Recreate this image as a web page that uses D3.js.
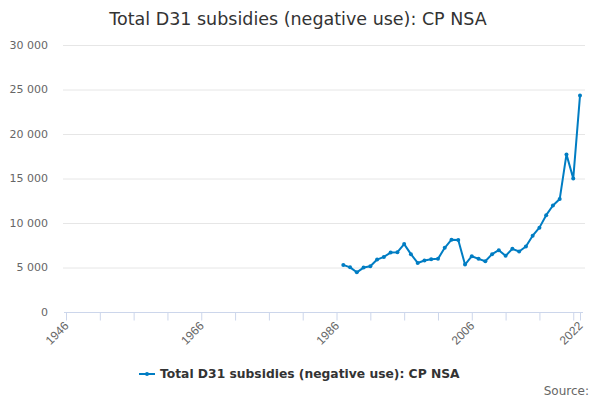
<!DOCTYPE html>
<html>
<head>
<meta charset="utf-8">
<script src="https://cdn.jsdelivr.net/npm/d3@7"></script>
<style>
  body { margin: 0; background: #fff; }
  svg { font-family: "DejaVu Sans", Verdana, sans-serif; }
  .axis text { fill: #666; font-size: 11px; }
  .x-axis text { font-size: 12px; }
  .axis path, .axis line { stroke: #ccd6eb; }
</style>
</head>
<body>
<div id="chart"></div>
<script>
// Yearly values 1987-2022
const years = d3.range(1987, 2023);
const values = [
  5290, 5020, 4460, 4990, 5140, 5890, 6190, 6680, 6720, 7630,
  6500, 5510, 5780, 5930, 5970, 7210, 8120, 8080, 5330, 6270,
  5970, 5700, 6500, 6950, 6310, 7100, 6800, 7360, 8570, 9480,
  10880, 11970, 12690, 17710, 14990, 24320
];
const yTicks = [0, 5000, 10000, 15000, 20000, 25000, 30000];
const xLabelYears = [1946, 1966, 1986, 2006, 2022];
const xTickYears = d3.range(1946, 2022, 5).concat([2022]);

const title = 'Total D31 subsidies (negative use): CP NSA';
const seriesName = 'Total D31 subsidies (negative use): CP NSA';

const data = years.map((y, i) => ({ year: y, value: values[i] }));

const width = 600;
const height = 400;

const svg = d3.select('#chart').append('svg')
  .attr('width', width)
  .attr('height', height);

const x = d3.scaleLinear()
  .domain([1946, 2022])
  .range([66, 580]);
const y = d3.scaleLinear()
  .domain([0, 30000])
  .range([312, 45]);

const fmt = (d) => d3.format(',')(d).replace(/,/g, ' ');

// gridlines
svg.append('g')
  .selectAll('line')
  .data(yTicks.filter(d => d > 0))
  .join('line')
  .attr('x1', 63)
  .attr('x2', 585)
  .attr('y1', d => y(d) + 0.5)
  .attr('y2', d => y(d) + 0.5)
  .attr('stroke', '#e6e6e6');

// y axis labels
svg.append('g')
  .attr('class', 'axis y-axis')
  .selectAll('text')
  .data(yTicks)
  .join('text')
  .attr('x', 48)
  .attr('y', d => y(d))
  .attr('dy', '0.35em')
  .attr('text-anchor', 'end')
  .text(fmt);

// x axis
const xAxis = d3.axisBottom(x)
  .tickValues(xTickYears)
  .tickSize(8)
  .tickSizeOuter(0)
  .tickFormat(d => xLabelYears.includes(d) ? d : '');

const xAxisG = svg.append('g')
  .attr('class', 'axis x-axis')
  .attr('transform', `translate(0,${y(0) + 0.5})`)
  .call(xAxis);

xAxisG.select('.domain')
  .attr('d', 'M64,0H583');

xAxisG.selectAll('.tick text')
  .attr('transform', 'translate(3,14) rotate(-45)')
  .attr('x', 0)
  .attr('y', 0)
  .attr('dy', 0)
  .style('text-anchor', 'end');

// line
const line = d3.line()
  .x(d => x(d.year))
  .y(d => y(d.value));

svg.append('path')
  .datum(data)
  .attr('fill', 'none')
  .attr('stroke', '#007dc3')
  .attr('stroke-width', 2)
  .attr('stroke-linejoin', 'round')
  .attr('d', line);

svg.append('g')
  .selectAll('circle')
  .data(data)
  .join('circle')
  .attr('cx', d => x(d.year))
  .attr('cy', d => y(d.value))
  .attr('r', 2)
  .attr('fill', '#007dc3');

// title
svg.append('text')
  .attr('x', 298)
  .attr('y', 25)
  .attr('text-anchor', 'middle')
  .attr('fill', '#333')
  .style('font-size', '17.5px')
  .text(title);

// legend
const legend = svg.append('g')
  .attr('transform', 'translate(139,374)');
legend.append('line')
  .attr('x1', 0).attr('x2', 16)
  .attr('y1', 0).attr('y2', 0)
  .attr('stroke', '#007dc3')
  .attr('stroke-width', 2);
legend.append('circle')
  .attr('cx', 8).attr('cy', 0).attr('r', 2)
  .attr('fill', '#007dc3');
legend.append('text')
  .attr('x', 21)
  .attr('y', 0)
  .attr('dy', '0.35em')
  .attr('fill', '#333')
  .style('font-size', '12.3px')
  .style('font-weight', 'bold')
  .text(seriesName);

// source
svg.append('text')
  .attr('x', 589)
  .attr('y', 395)
  .attr('text-anchor', 'end')
  .attr('fill', '#666')
  .style('font-size', '12px')
  .text('Source:');
</script>
</body>
</html>
